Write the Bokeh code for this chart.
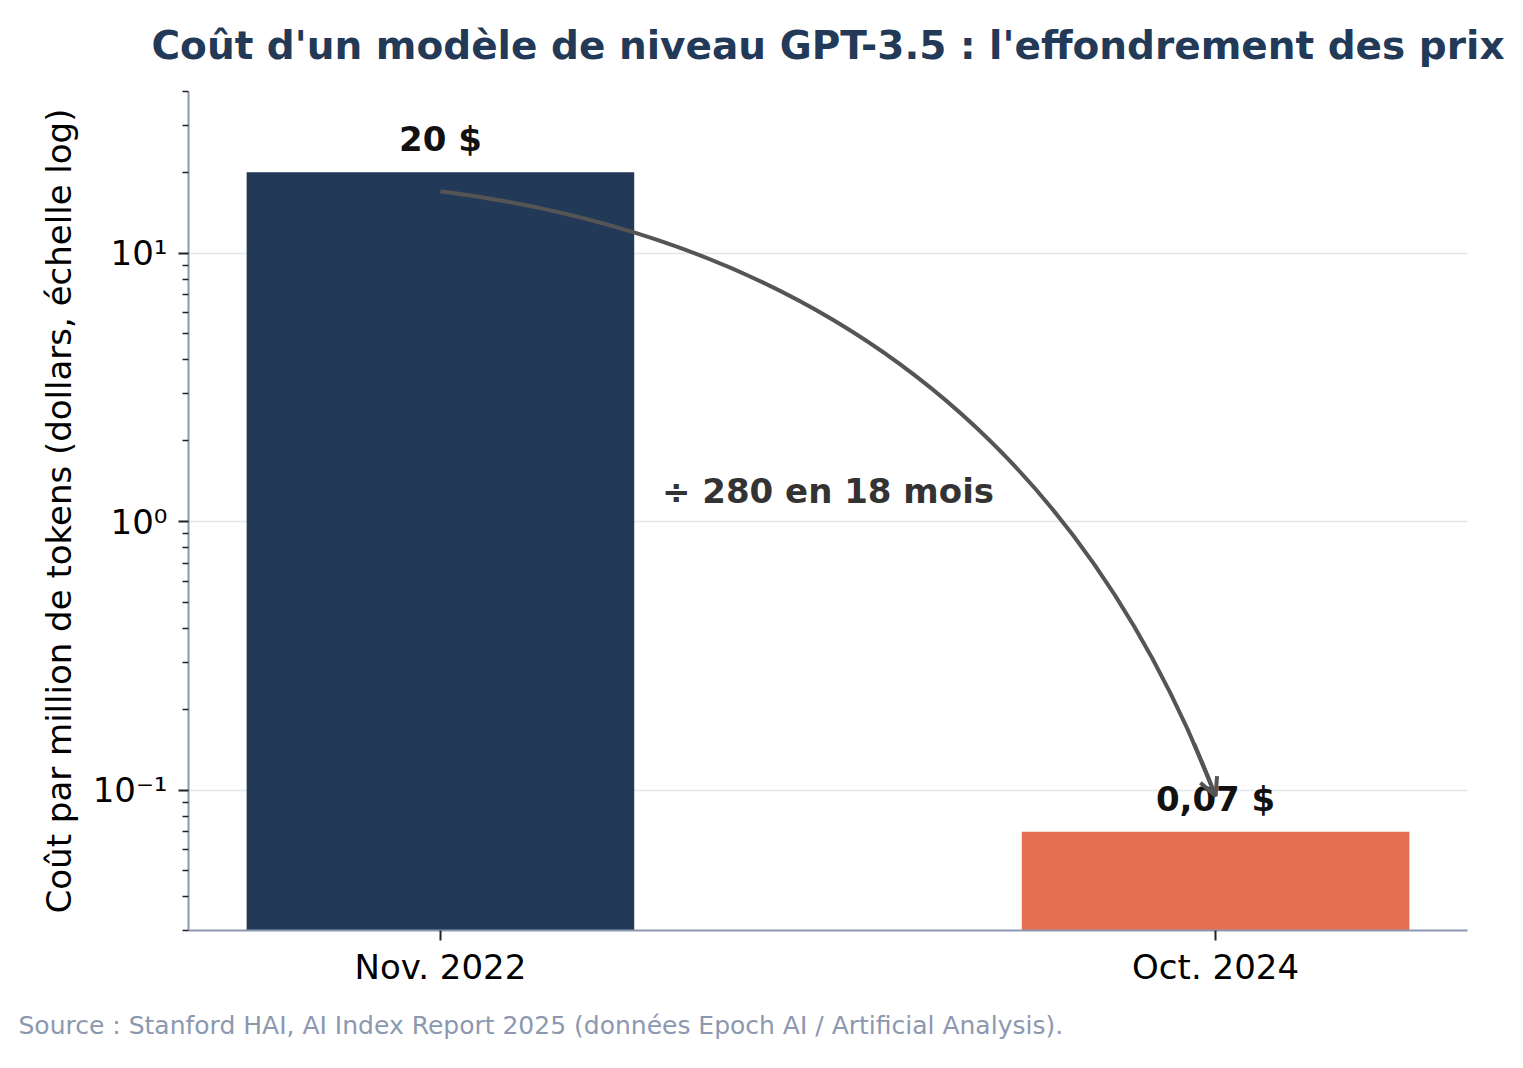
import math
from bokeh.plotting import figure
from bokeh.models import (Range1d, FixedTicker, CustomJSTickFormatter, Title, Arrow, OpenHead,
                          ColumnDataSource)
from bokeh.core.properties import value
from bokeh.embed import file_html
from bokeh.resources import INLINE

# ---- data ----
categories = ["Nov. 2022", "Oct. 2024"]
costs = [20.0, 0.07]
cost_labels = ["20 $", "0,07 $"]
bar_colors = ["#223A57", "#E76F51"]
y_tick_values = [0.1, 1.0, 10.0]
y_tick_labels = ["10\u207b\u00b9", "10\u2070", "10\u00b9"]
title_text = "Coût d'un modèle de niveau GPT-3.5 : l'effondrement des prix"
y_label = "Coût par million de tokens (dollars, échelle log)"
annotation_text = "÷ 280 en 18 mois"
source_text = "Source : Stanford HAI, AI Index Report 2025 (données Epoch AI / Artificial Analysis)."

FONT = "DejaVu Sans"
NAVY = "#223A57"
SPINE = "#8C98B0"

positions = list(range(len(categories)))

p = figure(width=1515, height=1060, y_axis_type="log",
           x_range=Range1d(-0.325, 1.325), y_range=Range1d(0.03, 40),
           output_backend="svg", toolbar_location=None,
           min_border_left=188, min_border_right=48, min_border_top=90, min_border_bottom=130)

p.background_fill_color = "white"
p.border_fill_color = "white"
p.outline_line_color = None

# title
p.title.text = title_text
p.title.text_font = FONT
p.title.text_font_size = "39px"
p.title.text_font_style = "bold"
p.title.text_color = NAVY
p.title.align = "center"
p.title.vertical_align = "top"
p.title.standoff = 44

# bars
src = ColumnDataSource(dict(x=positions, top=costs, color=bar_colors, label=cost_labels,
                            bottom=[1e-4] * len(costs)))
p.vbar(x="x", top="top", bottom="bottom", width=0.5, fill_color="color", line_color=None, source=src)
p.text(x="x", y="top", text="label", source=src, text_align="center", text_baseline="alphabetic",
       y_offset=-33, text_font=value(FONT), text_font_size="34px", text_font_style="bold",
       text_color="#111111")

# curved arrow from first bar to second
x0, y0 = positions[0], 17.0
x1, y1 = positions[1], 0.095
cx, cy = 0.736, 9.1
ARROW = "#555555"
p.quadratic(x0=[x0], y0=[y0], x1=[x1], y1=[y1], cx=[cx], cy=[cy], line_color=ARROW, line_width=4)
t = 0.95
ly0, lcy, ly1 = math.log10(y0), math.log10(cy), math.log10(y1)
bx = (1 - t) ** 2 * x0 + 2 * (1 - t) * t * cx + t ** 2 * x1
by = 10 ** ((1 - t) ** 2 * ly0 + 2 * (1 - t) * t * lcy + t ** 2 * ly1)
p.add_layout(Arrow(end=OpenHead(size=18, line_color=ARROW, line_width=4),
                   x_start=bx, y_start=by, x_end=x1, y_end=y1,
                   line_color=ARROW, line_width=4))

p.text(x=[0.5], y=[1.3], text=[annotation_text], text_align="center", text_baseline="middle",
       text_font=value(FONT), text_font_size="34px", text_font_style="bold", text_color="#333333")

# axes
p.xaxis.ticker = FixedTicker(ticks=positions)
p.xaxis.formatter = CustomJSTickFormatter(args=dict(labs=categories),
                                          code="return labs[Math.round(tick)];")
p.xaxis.minor_tick_line_color = None
p.xaxis.major_tick_out = 10
p.xaxis.major_tick_in = 0
p.xaxis.major_tick_line_color = "#222222"
p.xaxis.major_tick_line_width = 2
p.xaxis.axis_line_color = SPINE
p.xaxis.axis_line_width = 2
p.xaxis.major_label_text_font = FONT
p.xaxis.major_label_text_font_size = "34px"
p.xaxis.major_label_text_color = "#000000"
p.xaxis.major_label_standoff = 6

minor = []
for e in range(-2, 2):
    for k in range(2, 10):
        minor.append(k * 10.0 ** e)
p.yaxis.ticker = FixedTicker(ticks=y_tick_values, minor_ticks=minor)
p.yaxis.formatter = CustomJSTickFormatter(args=dict(vals=y_tick_values, labs=y_tick_labels), code="""
for (let i = 0; i < vals.length; i++) {
  if (Math.abs(Math.log10(tick) - Math.log10(vals[i])) < 1e-6) { return labs[i]; }
}
return "";
""")
p.yaxis.major_tick_out = 10
p.yaxis.major_tick_in = 0
p.yaxis.minor_tick_out = 6
p.yaxis.minor_tick_in = 0
p.yaxis.major_tick_line_color = "#222222"
p.yaxis.minor_tick_line_color = "#222222"
p.yaxis.major_tick_line_width = 2
p.yaxis.minor_tick_line_width = 1.5
p.yaxis.axis_line_color = SPINE
p.yaxis.axis_line_width = 2
p.yaxis.major_label_text_font = FONT
p.yaxis.major_label_text_font_size = "34px"
p.yaxis.major_label_text_color = "#000000"
p.yaxis.major_label_standoff = 11
p.yaxis.axis_label = y_label
p.yaxis.axis_label_text_font = FONT
p.yaxis.axis_label_text_font_size = "34px"
p.yaxis.axis_label_text_font_style = "normal"
p.yaxis.axis_label_text_color = "#000000"
p.yaxis.axis_label_standoff = 11

p.xgrid.grid_line_color = None
p.ygrid.grid_line_color = "#E3E7EC"
p.ygrid.grid_line_width = 1.5

p.add_layout(Title(text=source_text, align="left", offset=-170, standoff=39, vertical_align="bottom",
                   text_font=FONT, text_font_size="25px", text_font_style="normal",
                   text_color="#8C98AF"), "below")

open("out.html", "w").write(file_html(p, INLINE))
